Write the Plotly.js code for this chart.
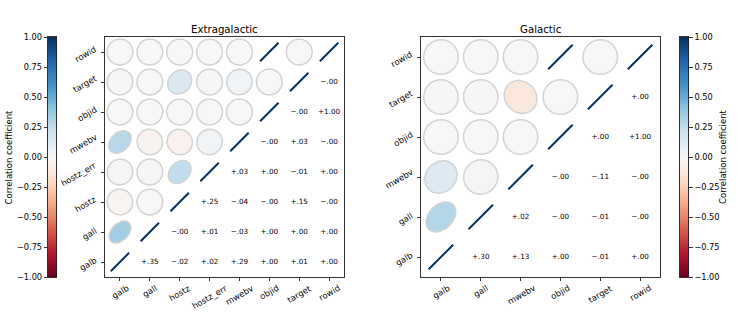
<!DOCTYPE html>
<html><head><meta charset="utf-8">
<script src="https://cdn.plot.ly/plotly-3.0.1.min.js"></script>
<style>html,body{margin:0;padding:0;background:#fff}</style>
</head><body><div id="chart" style="width:747px;height:312px"></div>
<script>
// ---------- data ----------
const extraVars = ['galb','gall','hostz','hostz_err','mwebv','objid','target','rowid'];
// upper-triangle rows: correlation of variable i with variables i+1 .. n-1
const extraGalb     = [0.35, -0.02, 0.02, 0.29, 0.003, 0.01, 0.003];
const extraGall     = [-0.003, 0.01, -0.03, 0.003, 0.003, 0.003];
const extraHostz    = [0.25, -0.04, -0.003, 0.15, -0.003];
const extraHostzErr = [0.03, 0.003, -0.01, 0.003];
const extraMwebv    = [-0.003, 0.03, -0.003];
const extraObjid    = [-0.003, 1.00];
const extraTarget   = [-0.003];

const galVars = ['galb','gall','mwebv','objid','target','rowid'];
const galGalb   = [0.30, 0.13, 0.003, -0.01, 0.003];
const galGall   = [0.02, -0.003, -0.01, -0.003];
const galMwebv  = [-0.003, -0.11, -0.003];
const galObjid  = [0.003, 1.00];
const galTarget = [0.003];

const cbarTicks = [1.00, 0.75, 0.50, 0.25, 0.00, -0.25, -0.50, -0.75, -1.00];
const cbarTitle = 'Correlation coefficient';
const panelTitles = ['Extragalactic', 'Galactic'];

// ---------- style ----------
const RdBu = ['#67001f','#b2182b','#d6604d','#f4a582','#fddbc7','#f7f7f7','#d1e5f0','#92c5de','#4393c3','#2166ac','#053061'];
const FONT = 'DejaVu Sans';
const W = 747, H = 312;
const yDom = [1 - 277/H, 1 - 37/H];
const D = 0.87;

function hex2rgb(h){ return [parseInt(h.slice(1,3),16), parseInt(h.slice(3,5),16), parseInt(h.slice(5,7),16)]; }
const stops = RdBu.map(hex2rgb);
function colorAt(r){
  let t = (r + 1) / 2 * (stops.length - 1);
  t = Math.max(0, Math.min(stops.length - 1, t));
  const k = Math.min(stops.length - 2, Math.floor(t));
  const f = t - k;
  const c = stops[k].map((v, m) => Math.round(v + (stops[k+1][m] - v) * f));
  return 'rgb(' + c.join(',') + ')';
}
const colorscale = RdBu.map((c, k) => [k / (RdBu.length - 1), c]);

function fmt(r){
  let s = Math.abs(r).toFixed(2);
  if (s[0] === '0') s = s.slice(1);
  return (r < 0 ? '\u2212' : '+') + s;
}
function cbarFmt(v){ const s = Math.abs(v).toFixed(2); return (v < 0 ? '\u2212' : '') + s; }

function corrMatrix(vars, rows){
  const n = vars.length;
  const M = [];
  for (let i = 0; i < n; i++){ M.push(new Array(n).fill(0)); M[i][i] = 1; }
  rows.forEach((row, i) => row.forEach((v, k) => { const j = i + k + 1; M[i][j] = v; M[j][i] = v; }));
  return M;
}

const traces = [];
const annotations = [];

function panel(vars, rows, xa, ya){
  const n = vars.length;
  const M = corrMatrix(vars, rows);
  const tx = [], ty = [], tt = [];
  for (let i = 0; i < n; i++){
    for (let j = 0; j < n; j++){
      const r = M[i][j];
      if (j < i){ tx.push(i); ty.push(j); tt.push(fmt(r)); continue; }
      const a = D / 2, b = a * (1 - Math.abs(r));
      const th = r >= 0 ? Math.PI / 4 : -Math.PI / 4;
      if (Math.abs(r) >= 0.999){
        traces.push({type:'scatter', mode:'lines', xaxis:xa, yaxis:ya,
          x:[i - a*Math.cos(th), i + a*Math.cos(th)], y:[j - a*Math.sin(th), j + a*Math.sin(th)],
          line:{color:colorAt(r), width:2}, hoverinfo:'skip', showlegend:false});
      } else {
        const ex = [], ey = [];
        for (let s = 0; s <= 72; s++){
          const t = s / 72 * 2 * Math.PI;
          ex.push(i + a*Math.cos(t)*Math.cos(th) - b*Math.sin(t)*Math.sin(th));
          ey.push(j + a*Math.cos(t)*Math.sin(th) + b*Math.sin(t)*Math.cos(th));
        }
        traces.push({type:'scatter', mode:'lines', xaxis:xa, yaxis:ya, x:ex, y:ey,
          fill:'toself', fillcolor:colorAt(r), line:{color:'#d3d3d3', width:1.5},
          hoverinfo:'skip', showlegend:false});
      }
    }
  }
  traces.push({type:'scatter', mode:'text', xaxis:xa, yaxis:ya, x:tx, y:ty, text:tt,
    textfont:{family:FONT, size:7.2, color:'#000'}, hoverinfo:'skip', showlegend:false});
  vars.forEach((v, k) => {
    annotations.push({xref:xa, yref:ya + ' domain', x:k, y:0, xanchor:'center', yanchor:'top',
      yshift:-3, textangle:-30, text:v, showarrow:false, font:{family:FONT, size:8.4, color:'#000'}});
    annotations.push({xref:xa + ' domain', yref:ya, x:0, y:k, xanchor:'right', yanchor:'middle',
      xshift:-4, yshift:-2, textangle:-30, text:v, showarrow:false, font:{family:FONT, size:8.4, color:'#000'}});
  });
}

panel(extraVars, [extraGalb, extraGall, extraHostz, extraHostzErr, extraMwebv, extraObjid, extraTarget], 'x', 'y');
panel(galVars, [galGalb, galGall, galMwebv, galObjid, galTarget], 'x2', 'y2');

// colour bars (gradient drawn by heatmap interpolation between -1 and 1)
[['x3','y3'], ['x4','y4']].forEach(([xa, ya]) => {
  traces.push({type:'heatmap', xaxis:xa, yaxis:ya, x:[0,1], y:[cbarTicks[cbarTicks.length-1], cbarTicks[0]],
    z:[[cbarTicks[cbarTicks.length-1], cbarTicks[cbarTicks.length-1]], [cbarTicks[0], cbarTicks[0]]],
    zsmooth:'best', colorscale:colorscale, zmin:-1, zmax:1, showscale:false, hoverinfo:'skip'});
});

// titles
annotations.push({xref:'x domain', yref:'paper', x:0.5, y:1 - 29.5/H, xanchor:'center', yanchor:'middle',
  text:panelTitles[0], showarrow:false, font:{family:FONT, size:10.2, color:'#000'}});
annotations.push({xref:'x2 domain', yref:'paper', x:0.5, y:1 - 29.5/H, xanchor:'center', yanchor:'middle',
  text:panelTitles[1], showarrow:false, font:{family:FONT, size:10.2, color:'#000'}});
annotations.push({xref:'paper', yref:'paper', x:8.5/W, y:1 - 157/H, xanchor:'center', yanchor:'middle',
  textangle:-90, text:cbarTitle, showarrow:false, font:{family:FONT, size:8.5, color:'#000'}});
annotations.push({xref:'paper', yref:'paper', x:723/W, y:1 - 157/H, xanchor:'center', yanchor:'middle',
  textangle:-90, text:cbarTitle, showarrow:false, font:{family:FONT, size:8.5, color:'#000'}});

function mainAxis(dom, n, anchor){
  return {domain:dom, range:[-0.5, n - 0.5], tickvals:[...Array(n).keys()], showticklabels:false,
    ticks:'outside', ticklen:3.5, tickwidth:0.8, tickcolor:'#000', showline:true, linecolor:'#000',
    linewidth:0.8, mirror:true, showgrid:false, zeroline:false, anchor:anchor, fixedrange:true};
}
function cbarX(dom, anchor){
  return {domain:dom, range:[0,1], showticklabels:false, ticks:'', showline:true, linecolor:'#000',
    linewidth:0.8, mirror:true, showgrid:false, zeroline:false, anchor:anchor, fixedrange:true};
}
function cbarY(side, anchor){
  return {domain:yDom, range:[-1,1], side:side, tickvals:cbarTicks, ticktext:cbarTicks.map(cbarFmt),
    ticks:'outside', ticklen:3.5, tickwidth:0.8, tickcolor:'#000', showline:true, linecolor:'#000',
    linewidth:0.8, mirror:true, showgrid:false, zeroline:false, anchor:anchor, fixedrange:true,
    tickfont:{family:FONT, size:8.2, color:'#000'}};
}

const layout = {
  width:W, height:H, margin:{l:0, r:0, t:0, b:0, pad:0}, showlegend:false,
  paper_bgcolor:'#fff', plot_bgcolor:'#fff', font:{family:FONT, color:'#000'},
  xaxis: mainAxis([105/W, 344/W], extraVars.length, 'y'),
  yaxis: mainAxis(yDom, extraVars.length, 'x'),
  xaxis2: mainAxis([421/W, 660/W], galVars.length, 'y2'),
  yaxis2: mainAxis(yDom, galVars.length, 'x2'),
  xaxis3: cbarX([48/W, 56.5/W], 'y3'),
  yaxis3: cbarY('left', 'x3'),
  xaxis4: cbarX([680/W, 688.5/W], 'y4'),
  yaxis4: cbarY('right', 'x4'),
  annotations: annotations
};

Plotly.newPlot('chart', traces, layout, {staticPlot:true, displayModeBar:false});
</script></body></html>
